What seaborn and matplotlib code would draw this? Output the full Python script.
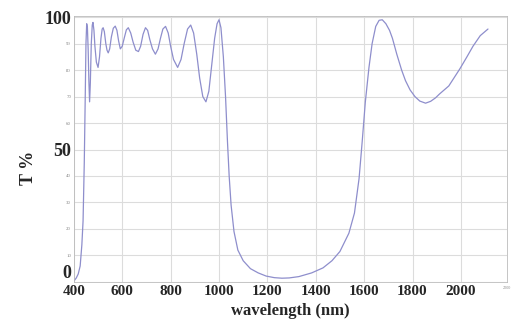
import numpy as np
import pandas as pd
import matplotlib
matplotlib.use("Agg")
import matplotlib.pyplot as plt
import seaborn as sns

# transmission curve (wavelength in nm, T in %)
wavelength = [400, 410, 418, 426, 433, 438, 443, 447, 450, 453, 456, 459, 462, 465, 468, 472,
              476, 479, 483, 487, 493, 500, 506, 512, 517, 521, 526, 532, 537, 542, 548,
              555, 563, 571, 578, 585, 592, 600, 608, 617, 625, 635, 645, 656, 667, 676,
              686, 696, 705, 714, 725, 737, 748, 758, 768, 779, 790, 800, 812, 829, 843,
              856, 870, 883, 895, 908, 920, 933, 946, 958, 970, 982, 992, 1000, 1008, 1018,
              1027, 1035, 1042, 1050, 1062, 1078, 1100, 1130, 1162, 1195, 1229, 1260, 1290,
              1330, 1383, 1430, 1467, 1500, 1537, 1560, 1579, 1592, 1605, 1620, 1633, 1648,
              1662, 1675, 1690, 1705, 1717, 1735, 1755, 1771, 1790, 1810, 1830, 1854, 1875,
              1895, 1912, 1950, 1996, 2025, 2050, 2080, 2112]
transmission = [0.3, 1.5, 3, 6, 14, 23, 45, 70, 90, 97.5, 96, 88, 76, 68, 75, 90,
                97, 98, 95, 89, 83, 81, 85, 92, 95.5, 96, 94.5, 90, 87.5, 86.5, 88,
                92.5, 95.8, 96.6, 95, 91, 88, 89, 92, 95.2, 96, 94, 90.5, 87.5, 87, 89,
                93.5, 96, 95, 91.5, 88, 86, 88, 92, 95.5, 96.5, 94, 89, 84, 81, 84,
                90, 95.5, 97, 94, 86, 77, 70, 68, 72, 82, 92, 97.5, 99, 96, 85,
                70, 53, 40, 29, 19, 12, 8, 5, 3.4, 2.2, 1.6, 1.4, 1.5,
                2, 3.4, 5.3, 8, 11.5, 18.4, 26, 39, 53, 68, 81, 90, 96.5,
                98.8, 99, 97.5, 95, 92, 86, 80, 76, 72.5, 70, 68.3, 67.5, 68.2,
                69.5, 71, 74, 80.5, 85, 89, 93, 95.5]
xticks = [400, 600, 800, 1000, 1200, 1400, 1600, 1800, 2000]
yticks = [0, 10, 20, 30, 40, 50, 60, 70, 80, 90, 100]
big_ylabels = {0: "0", 50: "50", 100: "100"}

df = pd.DataFrame({"wavelength": wavelength, "T": transmission})

sns.set_style("whitegrid", {"grid.color": "#dcdcdc", "axes.edgecolor": "#bbbbbb"})
plt.rcParams["font.family"] = ["Liberation Serif", "DejaVu Serif"]

fig = plt.figure(figsize=(5.13, 3.36), dpi=100)
ax = fig.add_axes([0.144, 0.161, 0.844, 0.792])

sns.lineplot(data=df, x="wavelength", y="T", color="#8e8ecc", linewidth=0.9, ax=ax)

ax.set_xlim(400, 2190)
ax.set_ylim(0, 100.5)
ax.set_xticks(xticks)
ax.set_xticklabels([str(t) for t in xticks], fontsize=11, fontweight="bold")
ax.set_yticks(yticks)
ax.set_yticklabels([big_ylabels.get(t, str(t)) for t in yticks])
for t, lab in zip(yticks, ax.get_yticklabels()):
    if t in big_ylabels:
        lab.set_fontsize(13)
        lab.set_fontweight("bold")
        if t == 0:
            lab.set_verticalalignment("bottom")
    else:
        lab.set_fontsize(3.5)
        lab.set_color("#888888")
ax.tick_params(axis="both", length=0, pad=2)
for s in ax.spines.values():
    s.set_linewidth(0.6)

# small leftover label at the right end of the x axis
ax.text(1.0, -0.015, "2200", transform=ax.transAxes, fontsize=3, color="#888888",
        ha="center", va="top")

ax.set_xlabel("wavelength (nm)", fontsize=12, fontweight="bold", labelpad=4)
ax.set_ylabel("T %", fontsize=13, fontweight="bold")
ax.yaxis.set_label_coords(-0.085, 0.43)

fig.savefig("out.png", dpi=100)
